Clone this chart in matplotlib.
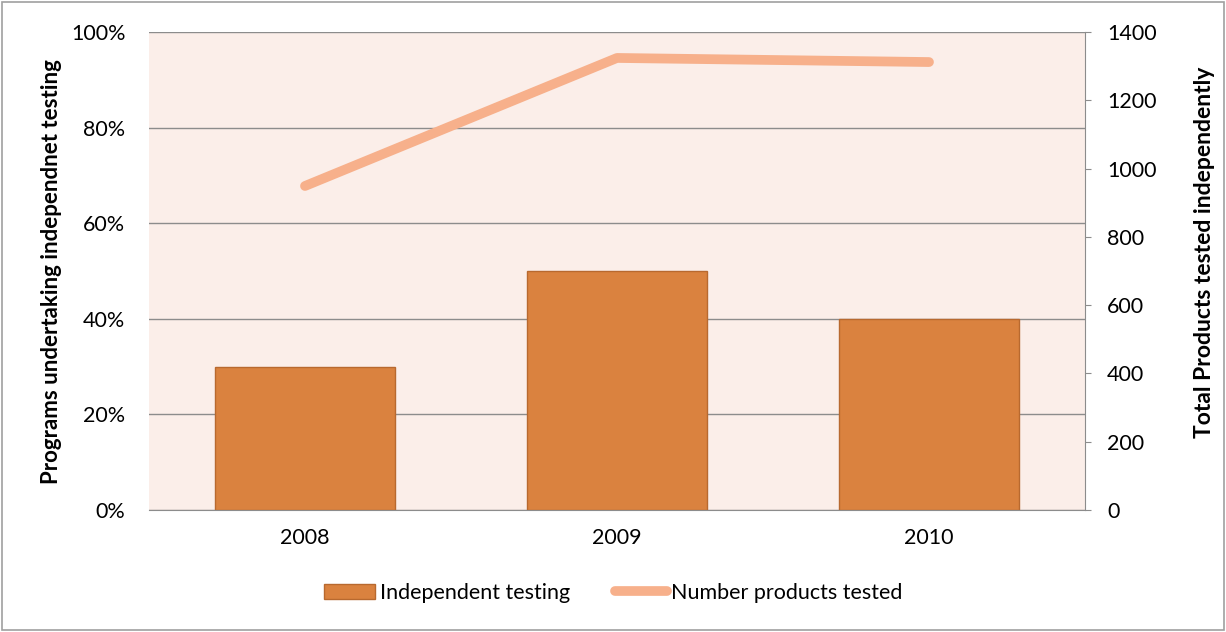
import matplotlib
matplotlib.use('Agg')
import matplotlib.pyplot as plt
from matplotlib.patches import Rectangle
from matplotlib.ticker import FuncFormatter

plt.rcParams['font.family'] = ['Lato', 'DejaVu Sans']

# data
years = ['2008', '2009', '2010']
independent_pct = [30, 50, 40]
products_tested = [949, 1324, 1312]

bar_color = '#DA823F'
line_color = '#F7B08B'
grid_color = '#8C8C8C'
fs = 15.5

fig = plt.figure(figsize=(12.26, 6.32), dpi=100)
ax = fig.add_axes([149 / 1226, 1 - 510 / 632, 936 / 1226, 478 / 632])
ax.set_facecolor('#FBEEE9')

x = range(len(years))
ax.bar(x, independent_pct, width=0.574, color=bar_color, edgecolor='#B8692F',
       linewidth=1, zorder=2, label='Independent testing')
ax.set_xlim(-0.5, 2.5)
ax.set_ylim(0, 100)
ax.set_yticks(range(0, 101, 20))
ax.yaxis.set_major_formatter(FuncFormatter(lambda v, p: f'{int(v)}%'))
ax.set_xticks(list(x))
ax.set_xticklabels(years)
ax.grid(axis='y', color=grid_color, linewidth=1, zorder=1)
ax.set_axisbelow(True)
for s in ['left', 'right', 'top']:
    ax.spines[s].set_visible(False)
ax.spines['bottom'].set_color(grid_color)
ax.tick_params(axis='y', length=0, labelsize=fs, pad=17)
ax.tick_params(axis='x', length=0, labelsize=fs, pad=13)
ax.set_ylabel('Programs undertaking independnet testing', fontsize=16,
              fontweight='bold')
ax.yaxis.set_label_coords(-0.093, 0.498)

ax2 = ax.twinx()
ax2.plot(list(x), products_tested, color=line_color, linewidth=7,
         solid_capstyle='round', zorder=3, label='Number products tested')
ax2.set_ylim(0, 1400)
ax2.set_yticks(range(0, 1401, 200))
for s in ['left', 'top', 'bottom']:
    ax2.spines[s].set_visible(False)
ax2.spines['right'].set_color(grid_color)
ax2.tick_params(axis='y', direction='out', length=4, color=grid_color,
                labelsize=fs, pad=12)
ax2.set_ylabel('Total Products tested independently', fontsize=16.5,
               fontweight='bold')
ax2.yaxis.set_label_coords(1.116, 0.54)

h1, l1 = ax.get_legend_handles_labels()
h2, l2 = ax2.get_legend_handles_labels()
fig.legend(h1 + h2, l1 + l2, loc='center', bbox_to_anchor=(0.5, 1 - 593 / 632),
           ncol=2, frameon=False, fontsize=fs, handlelength=2.4,
           handletextpad=0.2, columnspacing=2.1)

# outer border
fig.patches.append(Rectangle((0.002, 0.003), 0.996, 0.994, transform=fig.transFigure,
                             fill=False, edgecolor='#A0A0A0', linewidth=1.2))

fig.savefig('out.png', dpi=100)
